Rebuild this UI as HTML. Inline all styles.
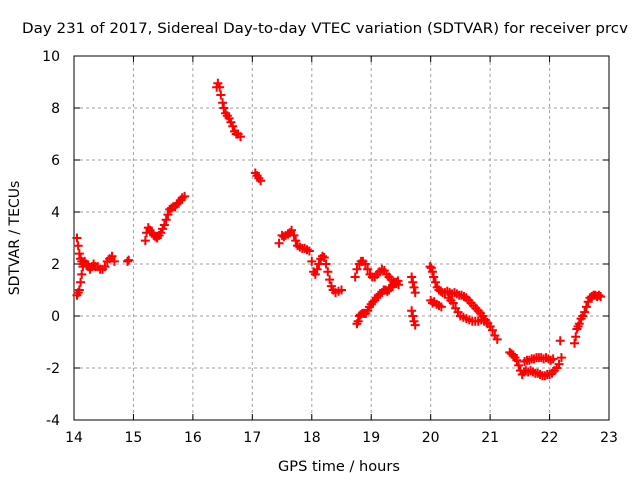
<!DOCTYPE html>
<html><head><meta charset="utf-8"><style>
body{margin:0;background:#fff}
svg{display:block;font-family:"DejaVu Sans","Liberation Sans",sans-serif}
</style></head><body>
<svg id="chart" width="640" height="480" viewBox="0 0 640 480">
<rect width="640" height="480" fill="#fff"/>
<text x="325" y="33" font-size="14" text-anchor="middle" textLength="606" lengthAdjust="spacingAndGlyphs">Day 231 of 2017, Sidereal Day-to-day VTEC variation (SDTVAR) for receiver prcv</text>
<g id="grid"></g>
<g id="ticks"></g>
<rect x="74" y="56" width="535" height="364" fill="none" stroke="#000" stroke-width="1"/>
<text x="339" y="471" font-size="14" text-anchor="middle" textLength="122" lengthAdjust="spacingAndGlyphs">GPS time / hours</text>
<text transform="translate(19,238) rotate(-90)" font-size="14" text-anchor="middle">SDTVAR / TECUs</text>
<g id="marks"></g>
</svg>
<script>
const xTicks=[14,15,16,17,18,19,20,21,22,23];
const yTicks=[-4,-2,0,2,4,6,8,10];
const hours=[14.05,14.07,14.09,14.11,14.13,14.15,14.18,14.21,14.24,14.27,14.3,14.33,14.36,14.4,14.44,14.48,14.52,14.56,14.6,14.64,14.68,
14.05,14.07,14.09,14.11,14.13,14.15,
14.9,14.92,
15.2,15.22,15.25,15.28,15.31,15.34,15.37,15.4,15.43,15.46,15.49,15.52,15.55,15.58,15.61,15.64,15.67,15.7,15.73,15.76,15.79,15.82,15.86,
16.4,16.42,16.45,16.47,16.5,16.52,16.55,16.58,16.61,16.64,16.67,16.7,16.73,16.76,16.8,
17.05,17.08,17.11,17.14,
17.45,17.5,17.53,17.56,17.6,17.63,17.66,17.7,17.73,17.76,17.8,17.84,17.88,17.92,17.96,18.0,18.03,18.06,18.09,18.12,18.15,18.18,18.21,18.24,18.27,18.3,18.33,18.36,18.4,18.45,18.5,
18.76,18.78,18.8,18.82,18.85,18.88,18.91,18.94,18.97,19.0,19.03,19.06,19.09,19.12,19.15,19.18,19.21,19.24,19.27,19.3,19.33,19.36,19.39,19.42,19.45,
18.73,18.76,18.8,18.83,18.86,18.9,18.94,18.98,19.02,19.06,19.1,19.14,19.18,19.22,19.26,19.3,19.34,19.38,19.42,19.46,
19.68,19.7,19.72,19.74,19.68,19.7,19.72,19.74,
19.99,20.01,20.03,20.05,20.08,20.11,20.14,20.17,20.2,20.24,20.28,20.32,20.36,20.4,20.44,20.48,20.52,20.56,20.6,20.64,20.68,20.72,20.76,20.8,20.84,20.88,20.92,20.96,21.0,21.04,21.08,21.12,
20.0,20.03,20.06,20.1,20.14,20.18,20.3,20.34,20.38,20.42,20.46,20.5,20.55,20.6,20.65,20.7,20.75,20.8,20.85,20.9,20.95,
21.33,21.36,21.39,21.42,21.45,21.48,21.51,21.54,21.57,21.6,21.64,21.68,21.72,21.76,21.8,21.84,21.88,21.92,21.96,22.0,22.04,22.08,22.12,22.16,22.2,
21.58,21.62,21.66,21.7,21.74,21.78,21.82,21.86,21.9,21.94,21.98,22.02,22.06,
22.18,
22.42,22.44,22.46,22.48,22.5,22.53,22.56,22.59,22.62,22.65,22.68,22.71,22.74,22.77,22.8,22.83,22.86];
const values=[3.0,2.7,2.4,2.2,2.1,2.0,2.1,2.0,1.9,1.8,1.9,2.0,1.9,1.9,1.8,1.8,1.9,2.1,2.2,2.3,2.1,
0.8,0.9,1.0,1.3,1.6,1.9,
2.1,2.15,
2.9,3.2,3.4,3.3,3.2,3.1,3.05,3.0,3.1,3.2,3.35,3.5,3.7,3.9,4.1,4.15,4.2,4.2,4.3,4.35,4.45,4.55,4.6,
8.8,8.95,8.8,8.5,8.2,8.0,7.8,7.7,7.6,7.45,7.3,7.1,7.0,7.0,6.9,
5.5,5.4,5.3,5.2,
2.8,3.1,3.05,3.1,3.15,3.2,3.3,3.1,2.9,2.7,2.65,2.6,2.6,2.55,2.5,2.1,1.7,1.6,1.8,2.0,2.2,2.3,2.25,2.0,1.7,1.4,1.15,1.0,0.9,0.95,1.0,
-0.3,-0.2,0.0,0.05,0.1,0.1,0.1,0.2,0.35,0.45,0.55,0.6,0.7,0.8,0.85,0.9,1.0,1.0,0.95,1.0,1.1,1.2,1.3,1.3,1.35,
1.5,1.8,2.0,2.1,2.1,2.0,1.8,1.6,1.5,1.5,1.6,1.7,1.8,1.75,1.6,1.5,1.4,1.3,1.25,1.2,
1.5,1.3,1.1,0.9,0.2,0.0,-0.2,-0.35,
1.9,1.85,1.7,1.5,1.3,1.1,1.0,0.95,0.9,0.9,0.95,0.9,0.85,0.9,0.85,0.8,0.8,0.75,0.7,0.6,0.5,0.4,0.3,0.2,0.1,0.0,-0.15,-0.3,-0.4,-0.55,-0.75,-0.9,
0.6,0.5,0.55,0.45,0.4,0.35,0.7,0.6,0.5,0.3,0.15,0.0,-0.05,-0.1,-0.15,-0.2,-0.2,-0.2,-0.15,-0.2,-0.25,
-1.4,-1.45,-1.5,-1.6,-1.7,-1.9,-2.1,-2.25,-2.15,-2.1,-2.15,-2.1,-2.15,-2.2,-2.2,-2.25,-2.3,-2.3,-2.25,-2.25,-2.2,-2.1,-2.0,-1.85,-1.6,
-1.75,-1.7,-1.7,-1.65,-1.65,-1.6,-1.6,-1.6,-1.65,-1.6,-1.65,-1.7,-1.65,
-0.95,
-1.05,-0.8,-0.5,-0.4,-0.3,-0.1,0.0,0.15,0.35,0.55,0.7,0.75,0.8,0.8,0.75,0.8,0.75];
const X=h=>74+(h-14)*535/9;
const Y=v=>316-v*26;
const NS="http://www.w3.org/2000/svg";
const grid=document.getElementById('grid'),ticks=document.getElementById('ticks'),marks=document.getElementById('marks');
function mk(t,a,p){const e=document.createElementNS(NS,t);for(const k in a)e.setAttribute(k,a[k]);p.appendChild(e);return e;}
xTicks.forEach(t=>{
  const x=X(t);
  if(t>14&&t<23){const g=mk('line',{x1:x,x2:x,y1:56,y2:420,stroke:'#a0a0a0','stroke-dasharray':'3,3'},grid);
  
  }
  mk('line',{x1:x,x2:x,y1:420,y2:414,stroke:'#000'},ticks);
  mk('line',{x1:x,x2:x,y1:56,y2:62,stroke:'#000'},ticks);
  const l=mk('text',{x:x,y:442,'font-size':14,'text-anchor':'middle'},ticks);l.textContent=t;
  
  
});
yTicks.forEach(t=>{
  const y=Y(t);
  if(t>-4&&t<10){const g=mk('line',{x1:74,x2:609,y1:y,y2:y,stroke:'#a0a0a0','stroke-dasharray':'3,3'},grid);
  
  }
  mk('line',{x1:74,x2:80,y1:y,y2:y,stroke:'#000'},ticks);
  mk('line',{x1:609,x2:603,y1:y,y2:y,stroke:'#000'},ticks);
  const l=mk('text',{x:60,y:y+5,'font-size':14,'text-anchor':'end'},ticks);l.textContent=t;
  
  
});
hours.forEach((h,i)=>{
  const x=X(h),y=Y(values[i]);
  const p=mk('path',{d:`M${x-4.5},${y}H${x+4.5}M${x},${y-4.5}V${y+4.5}`,stroke:'#ff0000','stroke-width':2,fill:'none'},marks);
  
  
});
</script>
</body></html>
